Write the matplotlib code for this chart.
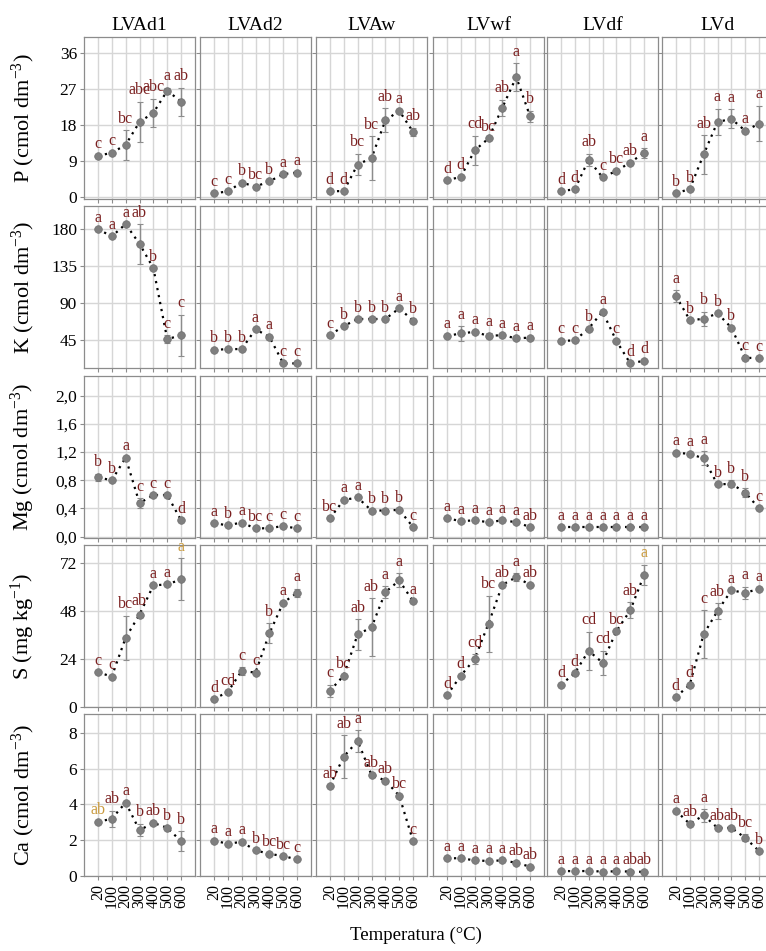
import numpy as np
import matplotlib
matplotlib.use('Agg')
import matplotlib.pyplot as plt
from matplotlib.ticker import FuncFormatter

plt.rcParams['font.family'] = ['Liberation Serif', 'DejaVu Serif']
plt.rcParams['mathtext.default'] = 'regular'

soils = ['LVAd1', 'LVAd2', 'LVAw', 'LVwf', 'LVdf', 'LVd']
temps = ['20', '100', '200', '300', '400', '500', '600']

# means (one list per soil, 7 temperatures)
P_mean = [[10.4, 11.1, 13.1, 18.8, 21.1, 26.6, 23.9],
          [1.0, 1.5, 3.7, 2.7, 4.0, 5.8, 6.2],
          [1.5, 1.6, 8.2, 9.8, 19.2, 21.6, 16.3],
          [4.3, 5.1, 11.7, 14.7, 22.4, 30.0, 20.2],
          [1.6, 2.0, 9.4, 5.0, 6.6, 8.7, 11.1],
          [1.0, 2.1, 10.7, 18.8, 19.6, 16.6, 18.4]]
P_err = [[0, 0, 3.7, 5.0, 3.5, 0.8, 3.5],
         [0, 0, 0, 0, 0, 0, 0],
         [0, 0, 2.7, 5.4, 3.0, 0, 1.1],
         [0, 0, 3.7, 0, 2.0, 3.4, 1.4],
         [0, 0, 1.5, 0, 0, 0, 1.2],
         [0, 0, 4.8, 3.3, 2.4, 0, 4.4]]
P_lab = [['c', 'c', 'bc', 'abc', 'abc', 'a', 'ab'],
         ['c', 'c', 'b', 'bc', 'b', 'a', 'a'],
         ['d', 'd', 'bc', 'bc', 'ab', 'a', 'ab'],
         ['d', 'd', 'cd', 'bc', 'ab', 'a', 'b'],
         ['d', 'd', 'ab', 'c', 'bc', 'ab', 'a'],
         ['b', 'b', 'ab', 'a', 'a', 'a', 'a']]

K_mean = [[180, 171, 186, 162, 132.5, 46, 51],
          [33, 34, 34, 58, 49, 16.6, 16.6],
          [51, 62, 70.6, 70.6, 70.6, 83.6, 68.5],
          [50, 53, 55, 50, 51, 47, 48],
          [44, 44.5, 59, 79.5, 44, 16.6, 19.8],
          [98.7, 69.4, 70.6, 77.6, 60, 23.4, 23]]
K_err = [[0, 0, 0, 24, 0, 5, 25],
         [0, 0, 0, 0, 0, 0, 0],
         [0, 0, 0, 0, 0, 0, 0],
         [0, 9, 0, 3, 0, 0, 0],
         [0, 0, 0, 0, 0, 0, 0],
         [7, 0, 9, 0, 0, 0, 0]]
K_lab = [['a', 'a', 'a', 'ab', 'b', 'c', 'c'],
         ['b', 'b', 'b', 'a', 'a', 'c', 'c'],
         ['c', 'b', 'b', 'b', 'b', 'a', 'b'],
         ['a', 'a', 'a', 'a', 'a', 'a', 'a'],
         ['c', 'c', 'b', 'a', 'c', 'd', 'd'],
         ['a', 'b', 'b', 'b', 'b', 'c', 'c']]

Mg_mean = [[0.84, 0.80, 1.12, 0.475, 0.59, 0.59, 0.23],
           [0.19, 0.16, 0.20, 0.115, 0.12, 0.15, 0.115],
           [0.26, 0.52, 0.555, 0.37, 0.37, 0.38, 0.135],
           [0.26, 0.22, 0.23, 0.205, 0.23, 0.205, 0.135],
           [0.13, 0.13, 0.13, 0.13, 0.13, 0.13, 0.13],
           [1.19, 1.175, 1.11, 0.74, 0.75, 0.625, 0.40]]
Mg_err = [[0.05, 0, 0, 0.07, 0, 0, 0],
          [0, 0, 0, 0, 0, 0, 0],
          [0, 0, 0, 0, 0, 0, 0],
          [0, 0, 0, 0, 0, 0, 0],
          [0, 0, 0, 0, 0, 0, 0],
          [0, 0, 0.10, 0, 0.05, 0.06, 0]]
Mg_lab = [['b', 'b', 'a', 'c', 'c', 'c', 'd'],
          ['a', 'b', 'a', 'bc', 'c', 'c', 'c'],
          ['bc', 'a', 'a', 'b', 'b', 'b', 'c'],
          ['a', 'a', 'a', 'a', 'a', 'a', 'ab'],
          ['a', 'a', 'a', 'a', 'a', 'a', 'a'],
          ['a', 'a', 'a', 'b', 'b', 'b', 'c']]

S_mean = [[17.4, 15.2, 34.6, 46.2, 60.8, 61.3, 63.8],
          [4.0, 7.5, 18.0, 17.2, 36.8, 52.2, 57.1],
          [8.1, 15.7, 36.3, 39.8, 57.4, 63.3, 52.8],
          [5.8, 15.6, 24.0, 41.7, 61.1, 64.9, 61.1],
          [11.1, 16.9, 28.1, 22.2, 37.9, 48.3, 66.1],
          [5.0, 11.1, 36.4, 48.0, 58.3, 57.1, 59.1]]
S_err = [[0, 0, 11, 1, 0, 0, 10.5],
         [0, 0, 2, 0, 5, 0, 2],
         [3, 0, 7.7, 14.5, 3, 3.5, 0],
         [0, 0, 2.5, 14, 0, 2, 0],
         [0, 0, 9.5, 6, 0, 4, 5],
         [0, 0, 12, 4, 0, 3, 0]]
S_lab = [['c', 'c', 'bc', 'ab', 'a', 'a', 'a'],
         ['d', 'cd', 'c', 'c', 'b', 'a', 'a'],
         ['c', 'bc', 'ab', 'ab', 'a', 'a', 'a'],
         ['d', 'd', 'cd', 'bc', 'ab', 'a', 'ab'],
         ['d', 'd', 'cd', 'cd', 'bc', 'ab', 'a'],
         ['d', 'd', 'c', 'ab', 'a', 'a', 'a']]

Ca_mean = [[3.02, 3.2, 4.1, 2.56, 2.97, 2.69, 1.94],
           [1.98, 1.8, 1.91, 1.43, 1.24, 1.11, 0.93],
           [5.04, 6.67, 7.54, 5.65, 5.33, 4.48, 1.94],
           [0.98, 1.0, 0.87, 0.84, 0.87, 0.74, 0.52],
           [0.28, 0.27, 0.28, 0.25, 0.26, 0.25, 0.23],
           [3.65, 2.91, 3.39, 2.69, 2.69, 2.13, 1.39]]
Ca_err = [[0, 0.45, 0, 0.35, 0, 0, 0.55],
          [0, 0, 0, 0, 0, 0, 0],
          [0, 1.2, 0.6, 0, 0, 0, 0],
          [0, 0, 0, 0, 0, 0, 0],
          [0, 0, 0, 0, 0, 0, 0],
          [0, 0, 0.35, 0, 0, 0.2, 0]]
Ca_lab = [['ab', 'ab', 'a', 'b', 'ab', 'b', 'b'],
          ['a', 'a', 'a', 'b', 'bc', 'bc', 'c'],
          ['ab', 'ab', 'a', 'ab', 'ab', 'bc', 'c'],
          ['a', 'a', 'a', 'a', 'a', 'ab', 'ab'],
          ['a', 'a', 'a', 'a', 'a', 'ab', 'ab'],
          ['a', 'ab', 'a', 'ab', 'ab', 'bc', 'b']]

# letters drawn in the lighter (gold) colour: (row, soil, temperature)
gold_labels = [(3, 0, 6), (3, 4, 6), (4, 0, 0)]

ylabels = ['P (cmol dm$^{-3}$)', 'K (cmol dm$^{-3}$)', 'Mg (cmol dm$^{-3}$)',
           'S (mg kg$^{-1}$)', 'Ca (cmol dm$^{-3}$)']
yticks = [[0, 9, 18, 27, 36], [45, 90, 135, 180],
          [0, 0.4, 0.8, 1.2, 1.6, 2.0], [0, 24, 48, 72], [0, 2, 4, 6, 8]]
ylims = [(-0.4, 40), (11, 208), (-0.02, 2.28), (0, 81), (0, 9.05)]

rows = [(P_mean, P_err, P_lab), (K_mean, K_err, K_lab), (Mg_mean, Mg_err, Mg_lab),
        (S_mean, S_err, S_lab), (Ca_mean, Ca_err, Ca_lab)]

W, H = 766, 951
fig = plt.figure(figsize=(W / 100, H / 100), dpi=100)

col_left = [84, 200, 316, 433, 547, 662]
row_top = [37, 206, 376, 545, 714]
pw, ph = 111, 162

red = '#7b2020'
gold = '#c99a3e'
x = np.arange(1, 8)

for r, (means, errs, labs) in enumerate(rows):
    for c in range(6):
        ax = fig.add_axes([col_left[c] / W, (H - row_top[r] - ph) / H, pw / W, ph / H])
        m = np.array(means[c], dtype=float)
        e = np.array(errs[c], dtype=float)
        ax.plot(x, m, linestyle=(0, (1, 2.2)), color='black', lw=1.6, zorder=2)
        has = e > 0
        if has.any():
            ax.errorbar(x[has], m[has], yerr=e[has], fmt='none', ecolor='#8c8c8c',
                        elinewidth=1.0, capsize=2, capthick=0.8, zorder=2.5)
        ax.plot(x, m, 'o', color='#7f7f7f', ms=5.5, mec='#6f6f6f', mew=0.5, zorder=3)
        for i in range(7):
            col = gold if (r, c, i) in gold_labels else red
            ax.annotate(labs[c][i], (x[i], m[i] + e[i]), xytext=(0, 2.5),
                        textcoords='offset points', ha='center', va='bottom',
                        fontsize=11.5, color=col, zorder=4)
        ax.set_xlim(0, 8)
        ax.set_ylim(*ylims[r])
        ax.set_xticks(x)
        ax.set_yticks(yticks[r])
        ax.grid(True, color='#d6d6d6', lw=1.0)
        ax.set_axisbelow(True)
        for s in ax.spines.values():
            s.set_color('#8c8c8c')
            s.set_linewidth(0.9)
        ax.tick_params(length=3, width=0.8, color='#8c8c8c', pad=2)
        ax.tick_params(axis='y', labelsize=12.5)
        ax.tick_params(axis='x', labelsize=11.5, pad=3)
        if r == 4:
            ax.set_xticklabels(temps, rotation=90)
        else:
            ax.set_xticklabels([])
        if c == 0:
            if r == 2:
                ax.yaxis.set_major_formatter(FuncFormatter(lambda v, p: f'{v:.1f}'.replace('.', ',')))
            ax.set_ylabel(ylabels[r], fontsize=16)
            ax.yaxis.set_label_coords(-0.42, 0.5)
        else:
            ax.set_yticklabels([])
        if r == 0:
            ax.set_title(soils[c], fontsize=14, pad=5)

fig.text(416 / W, 1 - 935 / H, 'Temperatura (°C)', ha='center', va='center', fontsize=13.5)

fig.savefig('out.png', dpi=100)
